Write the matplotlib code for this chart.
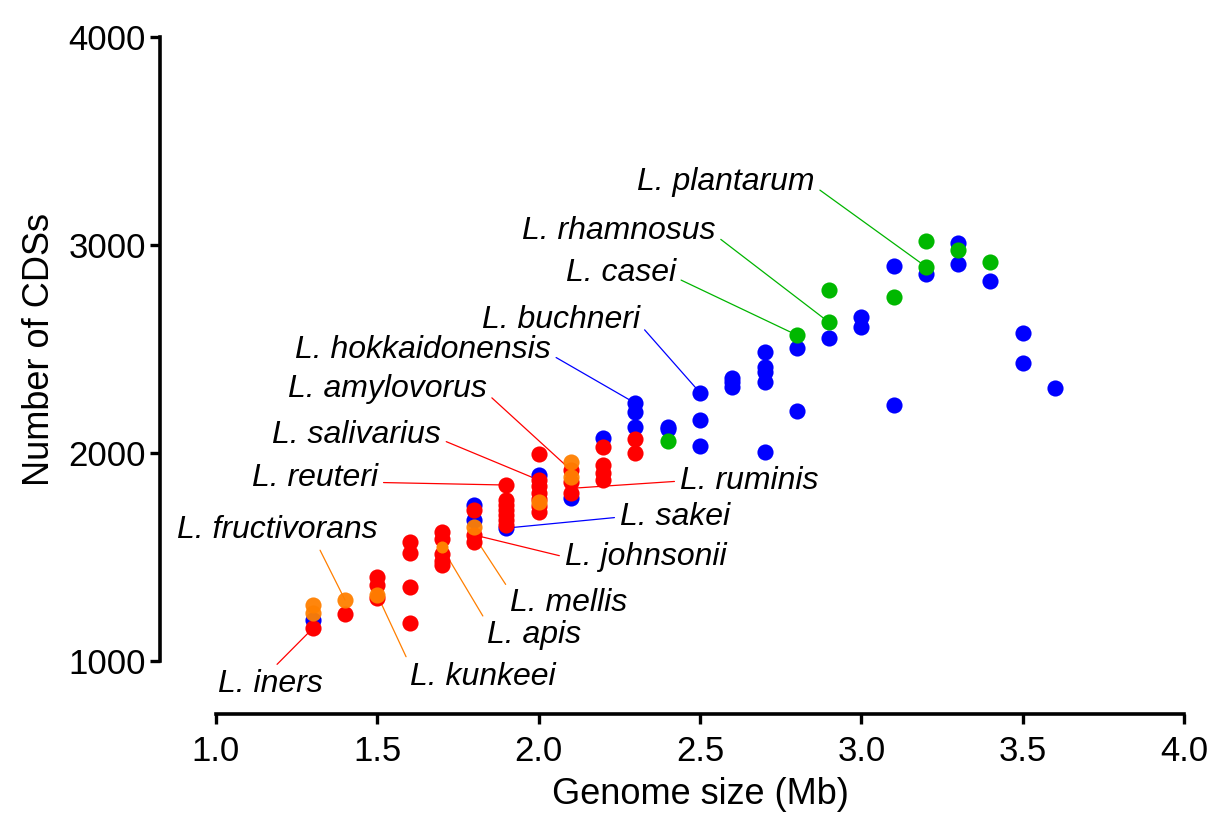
import matplotlib
matplotlib.use("Agg")
import matplotlib.pyplot as plt

plt.rcParams["font.family"] = ["Liberation Sans", "DejaVu Sans"]

# genome size (Mb) / number of CDSs, grouped by dot colour
blue_x = [1.3, 1.8, 1.8, 1.9, 2.0, 2.1, 2.2, 2.3, 2.3, 2.3, 2.4, 2.4,
          2.5, 2.5, 2.5, 2.6, 2.6, 2.6, 2.7, 2.7, 2.7, 2.7, 2.7, 2.8, 2.8,
          2.9, 3.0, 3.0, 3.1, 3.1, 3.2, 3.3, 3.3, 3.4, 3.5, 3.5, 3.6]
blue_y = [1197, 1750, 1678, 1639, 1894, 1784, 2070, 2239, 2199, 2127, 2127, 2115,
          2290, 2160, 2035, 2360, 2340, 2315, 2487, 2415, 2388, 2340, 2003, 2506, 2203,
          2551, 2652, 2607, 2899, 2232, 2861, 3008, 2909, 2825, 2575, 2434, 2314]

red_x = [1.3, 1.4, 1.5, 1.5, 1.5, 1.6, 1.6, 1.6, 1.6,
         1.7, 1.7, 1.7, 1.7, 1.7, 1.8, 1.8, 1.8,
         1.9, 1.9, 1.9, 1.9, 1.9, 1.9, 1.9,
         2.0, 2.0, 2.0, 2.0, 2.0, 2.0, 2.0,
         2.1, 2.1, 2.1, 2.2, 2.2, 2.2, 2.2, 2.3, 2.3]
red_y = [1157, 1226, 1405, 1365, 1303, 1574, 1518, 1357, 1181,
         1622, 1585, 1515, 1480, 1462, 1726, 1606, 1574,
         1846, 1774, 1750, 1725, 1700, 1677, 1654,
         1995, 1870, 1840, 1810, 1780, 1745, 1718,
         1918, 1860, 1808, 2031, 1942, 1905, 1870, 2066, 1999]

green_x = [2.4, 2.8, 2.9, 2.9, 3.1, 3.2, 3.2, 3.3, 3.4]
green_y = [2058, 2567, 2782, 2628, 2751, 3018, 2896, 2976, 2918]

orange_x = [1.3, 1.3, 1.4, 1.5, 1.8, 2.0, 2.1, 2.1]
orange_y = [1269, 1229, 1293, 1317, 1642, 1766, 1958, 1886]
orange_small_x = [1.7]
orange_small_y = [1546]

# species labels: text, text position, labelled point, side of leader line, colour
labels = ["L. plantarum", "L. rhamnosus", "L. casei", "L. buchneri",
          "L. hokkaidonensis", "L. amylovorus", "L. salivarius", "L. reuteri",
          "L. ruminis", "L. sakei", "L. johnsonii", "L. mellis", "L. apis",
          "L. kunkeei", "L. fructivorans", "L. iners"]
label_x = [2.856, 2.549, 2.425, 2.314, 2.038, 1.840, 1.697, 1.502,
           2.438, 2.252, 2.081, 1.911, 1.840, 1.601, 1.190, 1.170]
label_y = [3303, 3067, 2865, 2639, 2495, 2308, 2087, 1880,
           1865, 1692, 1500, 1279, 1125, 923, 1630, 889]
target_x = [3.2, 2.9, 2.8, 2.5, 2.3, 2.1, 2.0, 1.9,
            2.1, 1.9, 1.8, 1.8, 1.7, 1.5, 1.4, 1.3]
target_y = [2896, 2628, 2567, 2290, 2239, 1918, 1870, 1846,
            1830, 1639, 1606, 1600, 1546, 1317, 1293, 1157]
label_ha = ["right"] * 8 + ["left"] * 6 + ["center", "center"]
label_rel = [(1, 0.35)] * 8 + [(0, 0.5)] * 3 + [(0, 0.9)] * 3 + [(0.7, 0.0), (0.5, 0.95)]
line_col = ["#00b400"] * 3 + ["#0000ff"] * 2 + ["#ff0000"] * 4 + ["#0000ff", "#ff0000"] \
    + ["#ff7f00"] * 4 + ["#ff0000"]

BLUE = "#0000ff"
RED = "#ff0000"
GREEN = "#00b800"
ORANGE = "#ff8000"


def main() -> None:
    fig = plt.figure(figsize=(12.2, 8.18), dpi=100)
    ax = fig.add_axes([216 / 1220, 157 / 818, 968 / 1220, 624 / 818])

    ms = 135
    ax.scatter(blue_x, blue_y, s=ms, c=BLUE, lw=0, zorder=3, clip_on=False)
    ax.scatter(red_x, red_y, s=ms, c=RED, lw=0, zorder=3, clip_on=False)
    ax.scatter(green_x, green_y, s=ms, c=GREEN, lw=0, zorder=3, clip_on=False)
    ax.scatter(orange_x, orange_y, s=ms, c=ORANGE, lw=0, alpha=0.95, zorder=3, clip_on=False)
    ax.scatter(orange_small_x, orange_small_y, s=75, c=ORANGE, lw=0, zorder=3, clip_on=False)

    for i, name in enumerate(labels):
        ax.annotate(name, xy=(target_x[i], target_y[i]), xytext=(label_x[i], label_y[i]),
                    ha=label_ha[i], va="center", fontsize=23, style="italic",
                    zorder=2, annotation_clip=False,
                    arrowprops=dict(arrowstyle="-", color=line_col[i], lw=0.9,
                                    shrinkA=2, shrinkB=0, relpos=label_rel[i]))

    ax.set_xlim(1.0, 4.0)
    ax.set_ylim(1000, 4000)
    ax.set_xticks([1.0, 1.5, 2.0, 2.5, 3.0, 3.5, 4.0])
    ax.set_xticklabels(["1.0", "1.5", "2.0", "2.5", "3.0", "3.5", "4.0"])
    ax.set_yticks([1000, 2000, 3000, 4000])

    for side in ("top", "right"):
        ax.spines[side].set_visible(False)
    ax.spines["left"].set_position(("outward", 40))
    ax.spines["bottom"].set_position(("outward", 38))
    for side in ("left", "bottom"):
        ax.spines[side].set_linewidth(2.6)
    ax.tick_params(axis="both", length=7.5, width=2.4, labelsize=25)
    ax.tick_params(axis="y", pad=3)
    ax.tick_params(axis="x", pad=8)

    ax.set_xlabel("Genome size (Mb)", fontsize=26, labelpad=6)
    ax.set_ylabel("Number of CDSs", fontsize=26, labelpad=8)

    fig.savefig("out.png", dpi=100)
    plt.close(fig)


if __name__ == "__main__":
    main()
